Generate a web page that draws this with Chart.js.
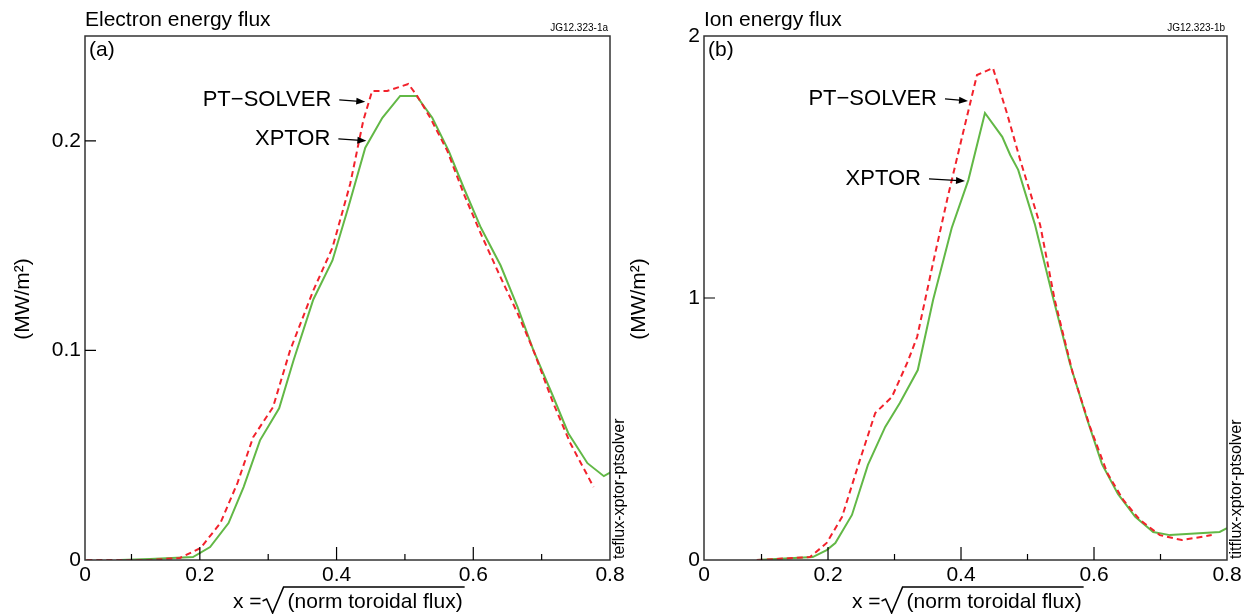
<!DOCTYPE html>
<html lang="en">
<head>
<meta charset="UTF-8">
<title>Electron and ion energy flux</title>
<script src="https://cdn.jsdelivr.net/npm/chart.js"></script>
<style>
  body { margin: 0; background: #fff; }
  #wrap { position: relative; width: 1250px; height: 614px; }
  canvas { position: absolute; top: 0; }
</style>
</head>
<body>
<div id="wrap">
  <canvas id="electronChart" width="628" height="614" style="left:0"></canvas>
  <canvas id="ionChart" width="622" height="614" style="left:628px"></canvas>
</div>
<script>
// (a) electron energy flux, MW/m^2 vs sqrt(norm toroidal flux)
var eXptorX = [0.083, 0.127, 0.190, 0.215, 0.242, 0.264, 0.288, 0.316, 0.337, 0.366, 0.394, 0.417, 0.442, 0.467, 0.493, 0.517, 0.540, 0.564, 0.586, 0.611, 0.640, 0.665, 0.688, 0.716, 0.739, 0.767, 0.791, 0.801];
var eXptorY = [0, 0.0005, 0.0014, 0.0062, 0.0176, 0.0348, 0.0571, 0.0724, 0.0952, 0.1243, 0.1429, 0.1681, 0.1967, 0.2110, 0.2214, 0.2214, 0.2110, 0.1952, 0.1776, 0.1586, 0.1405, 0.1205, 0.1000, 0.0786, 0.0605, 0.0462, 0.0400, 0.0419];
var ePtsX = [0.034, 0.127, 0.171, 0.201, 0.230, 0.255, 0.278, 0.307, 0.332, 0.366, 0.394, 0.420, 0.439, 0.452, 0.474, 0.505, 0.518, 0.537, 0.562, 0.586, 0.611, 0.640, 0.665, 0.688, 0.717, 0.742, 0.776];
var ePtsY = [0, 0, 0.001, 0.0057, 0.0176, 0.0367, 0.0586, 0.0729, 0.1000, 0.1286, 0.1490, 0.1795, 0.2095, 0.2238, 0.2238, 0.2271, 0.2214, 0.2110, 0.1952, 0.1748, 0.1557, 0.1348, 0.1176, 0.1000, 0.0748, 0.0557, 0.0348];

// (b) ion energy flux
var iXptorX = [0.093, 0.177, 0.198, 0.211, 0.236, 0.260, 0.286, 0.308, 0.335, 0.358, 0.386, 0.411, 0.436, 0.462, 0.474, 0.486, 0.511, 0.537, 0.564, 0.589, 0.612, 0.636, 0.662, 0.689, 0.714, 0.789, 0.800];
var iXptorY = [0, 0.011, 0.038, 0.065, 0.172, 0.363, 0.508, 0.599, 0.725, 0.992, 1.267, 1.450, 1.706, 1.615, 1.546, 1.489, 1.282, 1.015, 0.748, 0.542, 0.366, 0.252, 0.165, 0.107, 0.095, 0.107, 0.122];
var iPtsX = [0.093, 0.173, 0.198, 0.221, 0.248, 0.271, 0.296, 0.319, 0.334, 0.358, 0.380, 0.403, 0.424, 0.448, 0.469, 0.489, 0.519, 0.541, 0.568, 0.594, 0.620, 0.644, 0.669, 0.699, 0.732, 0.777];
var iPtsY = [0, 0.011, 0.065, 0.164, 0.382, 0.561, 0.622, 0.752, 0.851, 1.134, 1.385, 1.630, 1.851, 1.878, 1.706, 1.527, 1.279, 0.992, 0.714, 0.508, 0.332, 0.229, 0.153, 0.095, 0.076, 0.095];

// axes
var xTickValues = [0, 0.2, 0.4, 0.6, 0.8];
var xTickLabels = ['0', '0.2', '0.4', '0.6', '0.8'];
var xTickMarks = [0.1, 0.2, 0.3, 0.4, 0.5, 0.6, 0.7];
var eYTicks = [0, 0.1, 0.2];
var eYLabels = ['0', '0.1', '0.2'];
var iYTicks = [0, 1, 2];
var iYLabels = ['0', '1', '2'];

var FONT = '"Liberation Sans", Arial, Helvetica, sans-serif';
var RED = '#f2222c';
var GREEN = '#62b846';
Chart.defaults.font.family = FONT;
Chart.defaults.color = '#000';

function pts(xs, ys) {
  return xs.map(function (x, i) { return { x: x, y: ys[i] }; });
}

function arrow(ctx, x0, y0, x1, y1) {
  var ang = Math.atan2(y1 - y0, x1 - x0);
  ctx.beginPath();
  ctx.moveTo(x0, y0);
  ctx.lineTo(x1 - 6 * Math.cos(ang), y1 - 6 * Math.sin(ang));
  ctx.stroke();
  ctx.beginPath();
  ctx.moveTo(x1, y1);
  ctx.lineTo(x1 - 9 * Math.cos(ang) + 3.5 * Math.sin(ang), y1 - 9 * Math.sin(ang) - 3.5 * Math.cos(ang));
  ctx.lineTo(x1 - 9 * Math.cos(ang) - 3.5 * Math.sin(ang), y1 - 9 * Math.sin(ang) + 3.5 * Math.cos(ang));
  ctx.closePath();
  ctx.fill();
}

var panelDecor = {
  id: 'panelDecor',
  afterDraw: function (chart, args, o) {
    var ctx = chart.ctx, a = chart.chartArea;
    var xs = chart.scales.x, ys = chart.scales.y;
    ctx.save();
    ctx.fillStyle = '#000';

    // frame
    ctx.strokeStyle = '#333';
    ctx.lineWidth = 1.5;
    ctx.strokeRect(a.left, a.top, a.right - a.left, a.bottom - a.top);

    // inward tick marks
    ctx.lineWidth = 1.2;
    ctx.strokeStyle = '#000';
    ctx.beginPath();
    xTickMarks.forEach(function (v) {
      var px = xs.getPixelForValue(v);
      var len = Math.round(v * 10) % 2 === 0 ? 13 : 6;
      ctx.moveTo(px, a.bottom);
      ctx.lineTo(px, a.bottom - len);
    });
    o.yTicks.forEach(function (v) {
      if (v <= ys.min || v >= ys.max) return;
      var py = ys.getPixelForValue(v);
      ctx.moveTo(a.left, py);
      ctx.lineTo(a.left + 11, py);
    });
    ctx.stroke();

    // title, tag, panel letter
    ctx.textBaseline = 'middle';
    ctx.textAlign = 'left';
    ctx.font = '21px ' + FONT;
    ctx.fillText(o.title, a.left, 20);
    ctx.font = '21px ' + FONT;
    ctx.fillText(o.letter, a.left + 4, 50);
    ctx.textAlign = 'right';
    ctx.font = '10px ' + FONT;
    ctx.fillText(o.tag, a.right - 2, 28);

    // y axis title
    ctx.save();
    ctx.translate(o.yTitleX, 299);
    ctx.rotate(-Math.PI / 2);
    ctx.textAlign = 'center';
    ctx.font = '21px ' + FONT;
    ctx.fillText('(MW/m²)', 0, 0);
    ctx.restore();

    // file name on the right edge
    ctx.save();
    ctx.translate(a.right + 10, 559);
    ctx.rotate(-Math.PI / 2);
    ctx.textAlign = 'left';
    ctx.font = '16px ' + FONT;
    ctx.fillText(o.side, 0, 0);
    ctx.restore();

    // x axis title with radical sign
    var bx = a.left + 148, by = 608;
    ctx.textAlign = 'left';
    ctx.textBaseline = 'alphabetic';
    ctx.font = '21px ' + FONT;
    ctx.fillText('x =', bx, by);
    var sx = bx + ctx.measureText('x =').width + 1;
    var inner = '(norm toroidal flux)';
    var tx = sx + 25;
    var tw = ctx.measureText(inner).width;
    ctx.fillText(inner, tx, by);
    ctx.lineWidth = 1.6;
    ctx.beginPath();
    ctx.moveTo(sx, by - 7);
    ctx.lineTo(sx + 4, by - 9);
    ctx.lineTo(sx + 10, by + 5);
    ctx.lineTo(sx + 21, by - 21);
    ctx.lineTo(tx + tw + 2, by - 21);
    ctx.stroke();

    // labels with arrows
    ctx.lineWidth = 1.3;
    ctx.textAlign = 'right';
    ctx.textBaseline = 'middle';
    ctx.font = '22px ' + FONT;
    o.notes.forEach(function (n) {
      var x1 = xs.getPixelForValue(n.x), y1 = ys.getPixelForValue(n.y);
      var x0 = x1 - n.len, y0 = y1 - 2;
      arrow(ctx, x0, y0, x1, y1);
      ctx.fillText(n.text, x0 - 8, y0);
    });
    ctx.restore();
  }
};

function makePanel(id, cfg) {
  return new Chart(document.getElementById(id), {
    type: 'scatter',
    data: {
      datasets: [{
        label: 'PT-SOLVER',
        data: pts(cfg.ptsX, cfg.ptsY),
        borderColor: RED,
        borderWidth: 2,
        borderDash: [6, 4],
        showLine: true,
        pointRadius: 0,
        fill: false
      }, {
        label: 'XPTOR',
        data: pts(cfg.xptorX, cfg.xptorY),
        borderColor: GREEN,
        borderWidth: 2,
        showLine: true,
        pointRadius: 0,
        fill: false
      }]
    },
    options: {
      responsive: false,
      animation: false,
      layout: { padding: { top: 36, right: cfg.padRight, left: 0, bottom: 0 } },
      plugins: {
        legend: { display: false },
        tooltip: { enabled: false },
        panelDecor: cfg.decor
      },
      scales: {
        x: {
          type: 'linear',
          min: cfg.xMin,
          max: 0.8,
          grid: { display: false, drawTicks: false },
          border: { display: false },
          afterBuildTicks: function (scale) {
            scale.ticks = xTickValues.map(function (v) { return { value: Math.max(v, scale.min) }; });
          },
          afterFit: function (scale) { scale.height = 54; },
          ticks: {
            autoSkip: false,
            maxRotation: 0,
            padding: 3,
            font: { size: 21 },
            color: '#000',
            callback: function (v, i) { return xTickLabels[i]; }
          }
        },
        y: {
          type: 'linear',
          min: 0,
          max: cfg.yMax,
          grid: { display: false, drawTicks: false },
          border: { display: false },
          afterBuildTicks: function (scale) {
            scale.ticks = cfg.yTicks.map(function (v) { return { value: v }; });
          },
          afterFit: function (scale) { scale.width = cfg.yWidth; },
          ticks: {
            autoSkip: false,
            padding: 4,
            font: { size: 21 },
            color: '#000',
            callback: function (v, i) { return cfg.yLabels[i]; }
          }
        }
      }
    },
    plugins: [panelDecor]
  });
}

makePanel('electronChart', {
  ptsX: ePtsX, ptsY: ePtsY, xptorX: eXptorX, xptorY: eXptorY,
  xMin: 0.032, yMax: 0.25, yTicks: eYTicks, yLabels: eYLabels,
  yWidth: 85, padRight: 18,
  decor: {
    title: 'Electron energy flux', letter: '(a)', tag: 'JG12.323-1a',
    side: 'teflux-xptor-ptsolver', yTitleX: 23, yTicks: eYTicks,
    notes: [
      { text: 'PT\u2212SOLVER', x: 0.442, y: 0.2186, len: 26 },
      { text: 'XPTOR', x: 0.4436, y: 0.2, len: 28 }
    ]
  }
});

makePanel('ionChart', {
  ptsX: iPtsX, ptsY: iPtsY, xptorX: iXptorX, xptorY: iXptorY,
  xMin: 0.0135, yMax: 2, yTicks: iYTicks, yLabels: iYLabels,
  yWidth: 76, padRight: 23,
  decor: {
    title: 'Ion energy flux', letter: '(b)', tag: 'JG12.323-1b',
    side: 'titflux-xptor-ptsolver', yTitleX: 11, yTicks: iYTicks,
    notes: [
      { text: 'PT\u2212SOLVER', x: 0.4105, y: 1.752, len: 23 },
      { text: 'XPTOR', x: 0.406, y: 1.447, len: 36 }
    ]
  }
});
</script>
</body>
</html>
